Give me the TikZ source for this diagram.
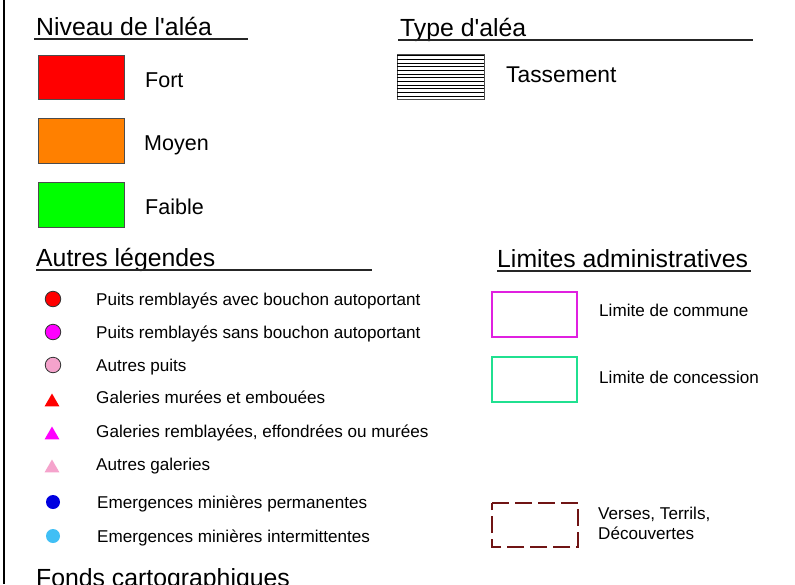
\documentclass[tikz,border=0pt]{standalone}
\usepackage{fontspec}
\setmainfont{Liberation Sans}
\newfontfamily\plainsans{Liberation Sans}
\usetikzlibrary{shapes.geometric}
\definecolor{cRed}{HTML}{FF0000}
\definecolor{cOrange}{HTML}{FF8000}
\definecolor{cGreen}{HTML}{00FF00}
\definecolor{cMag}{HTML}{FF00FF}
\definecolor{cPink}{HTML}{F5A3CC}
\definecolor{cBlue}{HTML}{0000E0}
\definecolor{cLBlue}{HTML}{40BFF5}
\definecolor{cComm}{HTML}{E020E0}
\definecolor{cConc}{HTML}{20E090}
\definecolor{cVerse}{HTML}{701414}
\begin{document}
\begin{tikzpicture}[x=1pt,y=-1pt,
  head/.style={anchor=base west,inner sep=0pt,font=\plainsans\fontsize{24.8}{28}\selectfont},
  lvl/.style={anchor=base west,inner sep=0pt,font=\plainsans\fontsize{21.5}{24}\selectfont},
  item/.style={anchor=base west,inner sep=0pt,font=\plainsans\fontsize{17.1}{20}\selectfont},
  uline/.style={line width=1.2pt,black!85},
  swatch/.style={draw=black!70,line width=0.6pt},
  dot/.style={circle,inner sep=0pt,minimum size=15.5pt},
  odot/.style={dot,draw=black!80,line width=0.8pt},
  tri/.style={regular polygon,regular polygon sides=3,inner sep=0pt,minimum size=17pt},
  limbox/.style={line width=2pt}]
\useasboundingbox (0,0) rectangle (795,584);
\clip (0,0) rectangle (795,584);
\fill[white] (0,0) rectangle (795,584);
% left frame line
\draw[line width=2pt] (4,0) coordinate (fa) -- (4,584) coordinate (fb);

% Niveau de l'alea
\node[head] (hNiv) at (36,35) {Niveau de l'aléa};
\coordinate (uNa) at (34,39); \coordinate (uNb) at (248,39);
\draw[uline] (uNa) -- (uNb);
\draw[swatch,fill=cRed] (38,55) rectangle (124,99);
\draw[swatch,fill=cOrange] (38,118) rectangle (124,163);
\draw[swatch,fill=cGreen] (38,182) rectangle (124,227);
\node[lvl] (tFort) at (145,87) {Fort};
\node[lvl] (tMoy) at (144,150) {Moyen};
\node[lvl] (tFai) at (145,214) {Faible};

% Type d'alea
\node[head] (hType) at (400,36) {Type d'aléa};
\coordinate (uTa) at (398,40); \coordinate (uTb) at (753,40);
\draw[uline] (uTa) -- (uTb);
\draw[line width=0.6pt,black!70] (397,54) rectangle (484,99);
\foreach \i in {0,...,11}{
  \draw[line width=0.8pt] (397,{55.5+3.7*\i}) -- (484,{55.5+3.7*\i});
}
\node[lvl,font=\plainsans\fontsize{22.8}{26}\selectfont] (tTas) at (506,82) {Tassement};

% Autres legendes
\node[head] (hAut) at (36,266) {Autres légendes};
\coordinate (uAa) at (36,270); \coordinate (uAb) at (372,270);
\draw[uline] (uAa) -- (uAb);
\node[odot,fill=cRed] (s1) at (53,299) {};
\node[odot,fill=cMag] (s2) at (53,332) {};
\node[odot,fill=cPink] (s3) at (53,365) {};
\node[tri,fill=cRed] (s4) at (52,402) {};
\node[tri,fill=cMag] (s5) at (52,435) {};
\node[tri,fill=cPink] (s6) at (52,468) {};
\node[dot,minimum size=14pt,fill=cBlue] (s7) at (53,502) {};
\node[dot,minimum size=14pt,fill=cLBlue] (s8) at (53,536) {};
\node[item] (t1) at (96,305) {Puits remblayés avec bouchon autoportant};
\node[item] (t2) at (96,338) {Puits remblayés sans bouchon autoportant};
\node[item] (t3) at (96,371) {Autres puits};
\node[item] (t4) at (96,403) {Galeries murées et embouées};
\node[item] (t5) at (96,437) {Galeries remblayées, effondrées ou murées};
\node[item] (t6) at (96,470) {Autres galeries};
\node[item] (t7) at (97,508) {Emergences minières permanentes};
\node[item] (t8) at (97,542) {Emergences minières intermittentes};

% Limites administratives
\node[head] (hLim) at (497,267) {Limites administratives};
\coordinate (uLa) at (497,271); \coordinate (uLb) at (751,271);
\draw[uline] (uLa) -- (uLb);
\draw[limbox,draw=cComm] (492,292) rectangle (577,337);
\draw[limbox,draw=cConc] (492,357) rectangle (577,402);
\draw[limbox,draw=cVerse,line width=2.4pt,dash pattern=on 17pt off 6pt] (492,503) -- (578,503) -- (578,547) -- (492,547) -- cycle;
\node[item] (tCom) at (599,316) {Limite de commune};
\node[item] (tCon) at (599,383) {Limite de concession};
\node[item] (tVer) at (598,519) {Verses, Terrils,};
\node[item] (tDec) at (598,539) {Découvertes};

% Fonds cartographiques (cut by the page edge, as in the reference)
\node[head] (hFon) at (36,586) {Fonds cartographiques};
\end{tikzpicture}
\end{document}
